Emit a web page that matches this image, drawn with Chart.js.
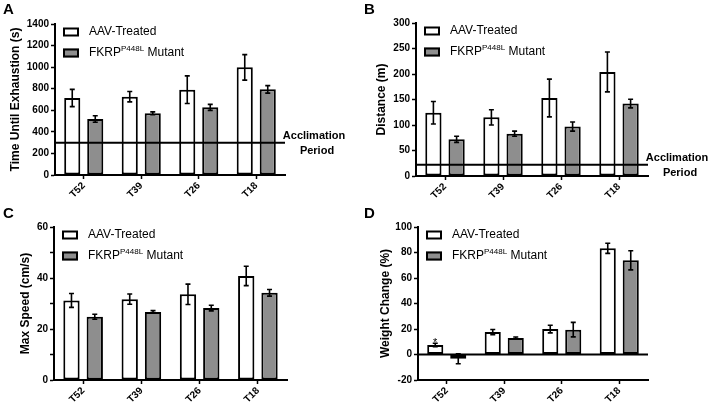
<!DOCTYPE html>
<html>
<head>
<meta charset="utf-8">
<script src="https://cdn.jsdelivr.net/npm/chart.js@4.4.1/dist/chart.umd.min.js"></script>
<style>
  body { margin: 0; background: #fff; }
  #wrap { position: relative; width: 722px; height: 408px; }
  .panel { position: absolute; width: 361px; height: 204px; }
  .panel canvas { position: absolute; left: 0; top: 0; }
  .tag { position: absolute; left: 3px; top: 0; font: bold 15px "Liberation Sans", Arial, sans-serif; color: #000; }
</style>
</head>
<body>
<div id="wrap">
  <div class="panel" style="left:0;top:0"><canvas id="chartA" width="361" height="204"></canvas><div class="tag">A</div></div>
  <div class="panel" style="left:361px;top:0"><canvas id="chartB" width="361" height="204"></canvas><div class="tag">B</div></div>
  <div class="panel" style="left:0;top:204px"><canvas id="chartC" width="361" height="204"></canvas><div class="tag">C</div></div>
  <div class="panel" style="left:361px;top:204px"><canvas id="chartD" width="361" height="204"></canvas><div class="tag">D</div></div>
</div>
<script>
const categories = ["T52", "T39", "T26", "T18"];
const seriesNames = ["AAV-Treated", "FKRP", "P448L", " Mutant"];

// A - time until exhaustion (s)
const timeAAV = [714, 726, 791, 998];
const timeAAVErr = [80, 48, 128, 118];
const timeMutant = [519, 572, 627, 794];
const timeMutantErr = [30, 13, 28, 35];
const timeAcclimation = 300;

// B - distance (m)
const distAAV = [124, 115, 153, 204];
const distAAVErr = [22, 15, 37, 39];
const distMutant = [72, 83, 97, 142];
const distMutantErr = [6, 5, 9, 8.5];
const distAcclimation = 22;

// C - max speed (cm/s)
const speedAAV = [31.2, 31.7, 33.6, 40.8];
const speedAAVErr = [2.7, 2, 4, 3.8];
const speedMutant = [24.8, 26.7, 28.2, 34.2];
const speedMutantErr = [1, 0.5, 1.1, 1.3];

// D - weight change (%)
const weightAAV = [7.5, 17.6, 20, 83.3];
const weightAAVErr = [1.3, 2, 3, 4];
const weightMutant = [-3.3, 12.9, 19.5, 73.9];
const weightMutantErr = [3.9, 0.8, 5.7, 7.5];
const weightMarks = ["*", "", "", ""];

const FONT = '"Liberation Sans", Arial, sans-serif';
const GREY = "#8e8e8e";

const errorBars = {
  id: "errorBars",
  afterDatasetsDraw(chart) {
    const ctx = chart.ctx;
    const y = chart.scales.y;
    chart.data.datasets.forEach((ds, i) => {
      const meta = chart.getDatasetMeta(i);
      meta.data.forEach((bar, j) => {
        const v = ds.data[j];
        const e = ds.errors[j];
        const top = y.getPixelForValue(v + e);
        const bot = y.getPixelForValue(v - e);
        ctx.save();
        ctx.strokeStyle = "#000";
        ctx.lineWidth = 1.6;
        ctx.beginPath();
        ctx.moveTo(bar.x, top);
        ctx.lineTo(bar.x, bot);
        ctx.moveTo(bar.x - 2.5, top);
        ctx.lineTo(bar.x + 2.5, top);
        ctx.moveTo(bar.x - 2.5, bot);
        ctx.lineTo(bar.x + 2.5, bot);
        ctx.stroke();
        if (ds.marks && ds.marks[j]) {
          // significance mark sits just above the whisker cap
          ctx.fillStyle = "#000";
          ctx.font = "11px " + FONT;
          ctx.textAlign = "center";
          ctx.textBaseline = "alphabetic";
          ctx.fillText(ds.marks[j], bar.x, top + 3);
        }
        ctx.restore();
      });
    });
  }
};

const refLine = {
  id: "refLine",
  afterDatasetsDraw(chart, args, opts) {
    if (opts.value === undefined) return;
    const ctx = chart.ctx;
    const area = chart.chartArea;
    const py = chart.scales.y.getPixelForValue(opts.value);
    ctx.save();
    ctx.strokeStyle = "#000";
    ctx.lineWidth = 2;
    ctx.beginPath();
    ctx.moveTo(area.left, py);
    ctx.lineTo(area.right, py);
    ctx.stroke();
    if (opts.label) {
      ctx.fillStyle = "#000";
      ctx.font = "bold 11px " + FONT;
      ctx.textAlign = "center";
      ctx.textBaseline = "middle";
      ctx.fillText(opts.label[0], area.right + 29, py - 7);
      ctx.fillText(opts.label[1], area.right + 32, py + 8);
    }
    ctx.restore();
  }
};

const legendBox = {
  id: "legendBox",
  afterDraw(chart) {
    const ctx = chart.ctx;
    const area = chart.chartArea;
    const x = area.left + 8;
    const rows = [
      { fill: "#fff", y: area.top + 8 },
      { fill: GREY, y: area.top + 29 }
    ];
    ctx.save();
    rows.forEach((r) => {
      ctx.fillStyle = r.fill;
      ctx.fillRect(x, r.y - 4.5, 16, 9);
      ctx.strokeStyle = "#000";
      ctx.lineWidth = 2;
      ctx.strokeRect(x + 1, r.y - 3.5, 14, 7);
    });
    ctx.fillStyle = "#000";
    ctx.textBaseline = "middle";
    ctx.textAlign = "left";
    ctx.font = "12px " + FONT;
    const tx = x + 26;
    ctx.fillText(seriesNames[0], tx, rows[0].y);
    ctx.fillText(seriesNames[1], tx, rows[1].y);
    let w = ctx.measureText(seriesNames[1]).width;
    ctx.font = "8px " + FONT;
    ctx.fillText(seriesNames[2], tx + w, rows[1].y - 4);
    w += ctx.measureText(seriesNames[2]).width;
    ctx.font = "12px " + FONT;
    ctx.fillText(seriesNames[3], tx + w, rows[1].y);
    ctx.restore();
  }
};

function makePanel(id, p) {
  const config = {
    type: "bar",
    data: {
      labels: categories,
      datasets: [
        {
          label: seriesNames[0],
          data: p.aav,
          errors: p.aavErr,
          marks: p.marks,
          backgroundColor: "#fff",
          borderColor: "#000",
          borderWidth: 2,
          borderSkipped: false,
        },
        {
          label: "FKRP P448L Mutant",
          data: p.mutant,
          errors: p.mutantErr,
          backgroundColor: GREY,
          borderColor: "#000",
          borderWidth: 2,
          borderSkipped: false,
        },
      ],
    },
    options: {
      responsive: false,
      animation: false,
      categoryPercentage: 0.8,
      barPercentage: 0.7,
      layout: {
        padding: { left: 0, right: p.padRight, top: p.top, bottom: 0 },
      },
      scales: {
        x: {
          grid: { offset: false, drawOnChartArea: false, tickLength: 4, tickColor: "#000", tickWidth: 1.5 },
          border: { display: true, color: "#000", width: 2 },
          ticks: { color: "#000", font: { family: FONT, size: 10, weight: "bold" }, minRotation: 45, maxRotation: 45, padding: 1 },
          afterFit: (s) => { s.height = p.xHeight; },
        },
        y: {
          min: p.min,
          max: p.max,
          grid: { drawOnChartArea: false, tickLength: 4, tickColor: "#000", tickWidth: 1.5 },
          border: { display: true, color: "#000", width: 2 },
          ticks: {
            stepSize: p.step / 2,
            color: "#000",
            padding: 2,
            font: { family: FONT, size: 10, weight: "bold" },
            callback: (v) => (Math.round(v / p.step) * p.step === v ? v : ""),
          },
          title: {
            display: true,
            text: p.title,
            color: "#000",
            font: { family: FONT, size: 12, weight: "bold" },
            padding: { top: p.titlePad, bottom: 0 },
          },
          afterFit: (s) => { s.width = p.left; },
        },
      },
      plugins: {
        legend: { display: false },
        tooltip: { enabled: false },
        refLine: { value: p.ref, label: p.refLabel },
      },
    },
    plugins: [refLine, errorBars, legendBox],
  };
  return new Chart(document.getElementById(id), config);
}

makePanel("chartA", {
  aav: timeAAV, aavErr: timeAAVErr, mutant: timeMutant, mutantErr: timeMutantErr,
  min: 0, max: 1400, step: 200, title: "Time Until Exhaustion (s)",
  ref: timeAcclimation, refLabel: ["Acclimation", "Period"],
  left: 55, top: 24, padRight: 76, xHeight: 29, titlePad: 8,
});
makePanel("chartB", {
  aav: distAAV, aavErr: distAAVErr, mutant: distMutant, mutantErr: distMutantErr,
  min: 0, max: 300, step: 50, title: "Distance (m)",
  ref: distAcclimation, refLabel: ["Acclimation", "Period"],
  left: 55, top: 23, padRight: 74, xHeight: 28, titlePad: 13,
});
makePanel("chartC", {
  aav: speedAAV, aavErr: speedAAVErr, mutant: speedMutant, mutantErr: speedMutantErr,
  min: 0, max: 60, step: 20, title: "Max Speed (cm/s)",
  left: 54, top: 23, padRight: 74, xHeight: 28, titlePad: 18,
});
makePanel("chartD", {
  aav: weightAAV, aavErr: weightAAVErr, mutant: weightMutant, mutantErr: weightMutantErr,
  marks: weightMarks,
  min: -20, max: 100, step: 20, title: "Weight Change (%)",
  ref: 0,
  left: 57, top: 23, padRight: 74, xHeight: 28, titlePad: 17,
});
</script>
</body>
</html>
